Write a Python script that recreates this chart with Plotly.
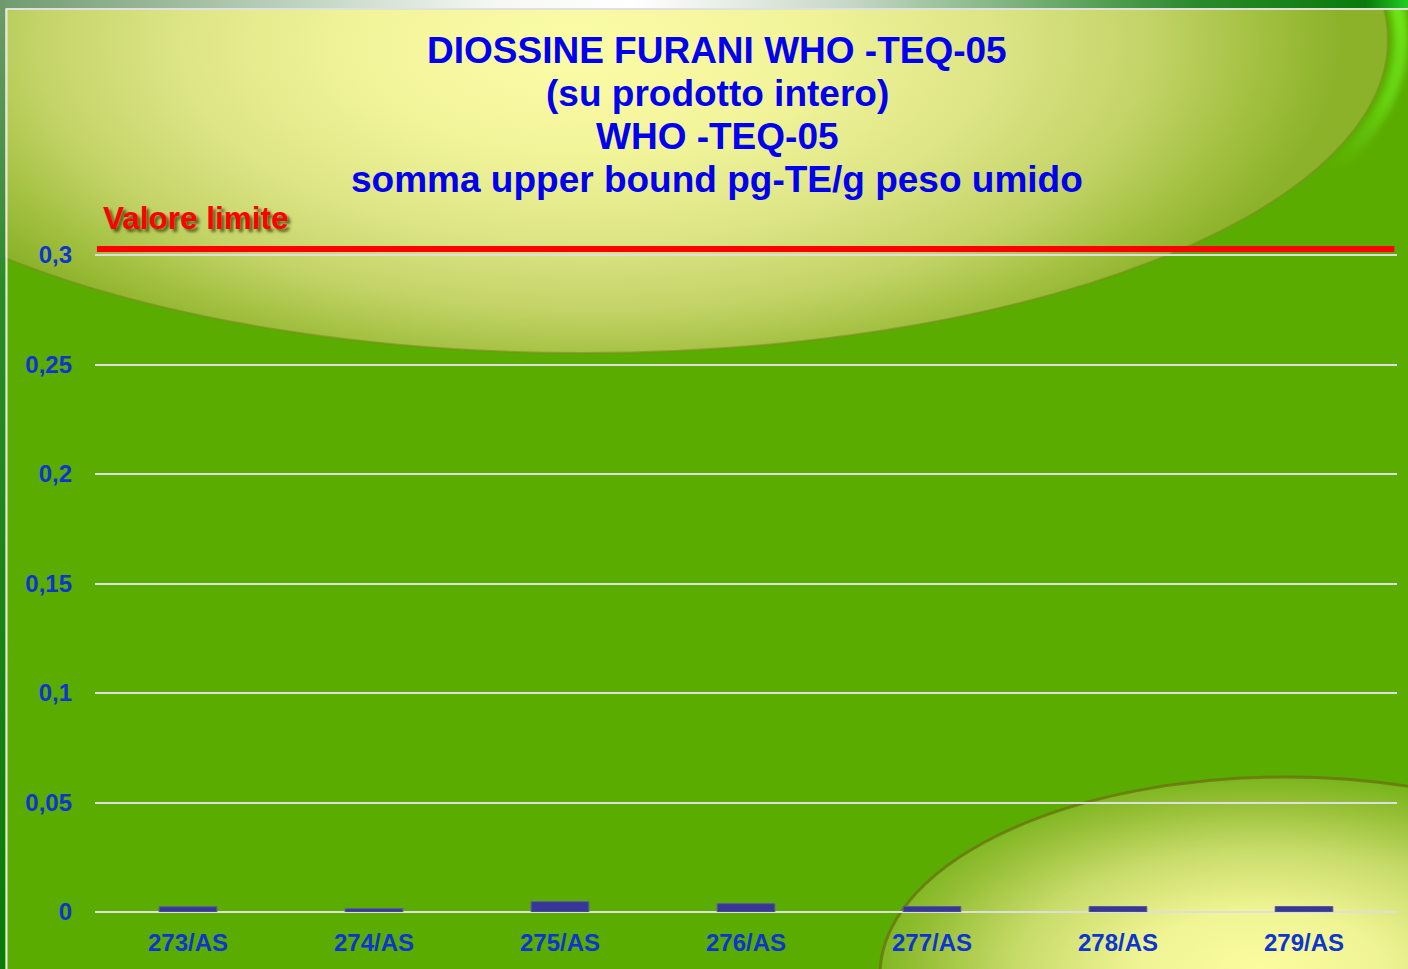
import base64

import plotly.graph_objects as go

# campioni e valori (pg-TE/g peso umido)
campioni = ["273/AS", "274/AS", "275/AS", "276/AS", "277/AS", "278/AS", "279/AS"]
somma_upper_bound = [0.0024, 0.0015, 0.0047, 0.0038, 0.0025, 0.0025, 0.0025]
valore_limite = 0.3
y_ticks = [0, 0.05, 0.1, 0.15, 0.2, 0.25, 0.3]

title_lines = [
    "DIOSSINE FURANI WHO -TEQ-05",
    "(su prodotto intero)",
    "WHO -TEQ-05",
    "somma upper bound pg-TE/g peso umido",
]

W, H = 1408, 969
ML, MR, MT, MB = 95, 11, 244, 57
PW, PH = W - ML - MR, H - MT - MB

BLUE = "#0000ee"
TICK_BLUE = "#0c36cf"
FONT = "Liberation Sans, Arial, sans-serif"


def px_x(x):
    return (x - ML) / PW


def px_y(y):
    return (H - MB - y) / PH


# slide background: green with two glossy ellipses
svg = f"""<svg xmlns="http://www.w3.org/2000/svg" width="{W}" height="{H}" viewBox="0 0 {W} {H}">
<defs>
  <radialGradient id="g1" gradientUnits="userSpaceOnUse" cx="600" cy="40" r="740" fx="570" fy="60"
    gradientTransform="translate(600,40) scale(1,0.48) translate(-600,-40)">
    <stop offset="0" stop-color="#fcfca8"/>
    <stop offset="0.3" stop-color="#f2f49a"/>
    <stop offset="0.55" stop-color="#dde586"/>
    <stop offset="0.75" stop-color="#c4d468"/>
    <stop offset="0.9" stop-color="#a2c040"/>
    <stop offset="1" stop-color="#8cb22a"/>
  </radialGradient>
  <radialGradient id="g2" cx="0.47" cy="0.485" r="0.5" fx="0.47" fy="0.485">
    <stop offset="0" stop-color="#fbfc9e"/>
    <stop offset="0.3" stop-color="#f0f494"/>
    <stop offset="0.6" stop-color="#c8dc6a"/>
    <stop offset="0.85" stop-color="#94be34"/>
    <stop offset="1" stop-color="#74b418"/>
  </radialGradient>
  <linearGradient id="top" x1="0" y1="0" x2="1" y2="0">
    <stop offset="0" stop-color="#6f9a6f"/>
    <stop offset="0.35" stop-color="#f4f8f4"/>
    <stop offset="0.45" stop-color="#ffffff"/>
    <stop offset="0.6" stop-color="#c8d8c8"/>
    <stop offset="0.85" stop-color="#2a8a2a"/>
    <stop offset="0.97" stop-color="#0a7a0a"/>
    <stop offset="1" stop-color="#22cc22"/>
  </linearGradient>
  <linearGradient id="left" x1="0" y1="0" x2="0" y2="1">
    <stop offset="0" stop-color="#6f9a6f"/>
    <stop offset="0.3" stop-color="#2a8a2a"/>
    <stop offset="1" stop-color="#0a7a0a"/>
  </linearGradient>
  <linearGradient id="lime" gradientUnits="userSpaceOnUse" x1="0" y1="0" x2="0" y2="170">
    <stop offset="0" stop-color="#6fe81a" stop-opacity="1"/>
    <stop offset="0.6" stop-color="#6fe81a" stop-opacity="0.6"/>
    <stop offset="1" stop-color="#6fe81a" stop-opacity="0"/>
  </linearGradient>
  <clipPath id="tr"><rect x="1320" y="0" width="100" height="200"/></clipPath>
  <filter id="blur"><feGaussianBlur stdDeviation="3"/></filter>
</defs>
<rect x="0" y="0" width="{W}" height="{H}" fill="#5aac00"/>
<ellipse cx="583" cy="40" rx="818" ry="326" fill="none" stroke="url(#lime)" stroke-width="14"
  clip-path="url(#tr)" filter="url(#blur)"/>
<ellipse cx="583" cy="40" rx="805" ry="313" fill="url(#g1)" stroke="#7e8c22" stroke-width="2" stroke-opacity="0.6"/>
<ellipse cx="1285" cy="975" rx="405" ry="198" fill="url(#g2)" stroke="#6a7410" stroke-width="3" stroke-opacity="0.8"/>
<rect x="0" y="0" width="{W}" height="8" fill="url(#top)"/>
<line x1="6" y1="9" x2="{W}" y2="9" stroke="#e0e0e0" stroke-width="2"/>
<rect x="0" y="0" width="5" height="{H}" fill="url(#left)"/>
<line x1="6.5" y1="9" x2="6.5" y2="{H}" stroke="#e8e8e8" stroke-width="2"/>
</svg>"""
bg_uri = "data:image/svg+xml;base64," + base64.b64encode(svg.encode()).decode()

fig = go.Figure()
fig.add_trace(
    go.Bar(
        x=campioni,
        y=somma_upper_bound,
        width=0.31,
        marker={"color": "#373797", "line": {"color": "#5a5a9a", "width": 1}},
        showlegend=False,
    )
)

# valore limite: red rule drawn just above the 0,3 gridline
fig.add_shape(
    type="line",
    xref="paper",
    x0=0.0015,
    x1=0.998,
    yref="y",
    ysizemode="pixel",
    yanchor=valore_limite,
    y0=6,
    y1=6,
    line={"color": "#ff0000", "width": 6},
)

annotations = []
for i, line in enumerate(title_lines):
    annotations.append(
        dict(
            text=line,
            xref="paper",
            yref="paper",
            x=px_x(717),
            y=px_y(51 + 43 * i),
            xanchor="center",
            yanchor="middle",
            showarrow=False,
            font={"family": FONT, "size": 37, "color": BLUE, "weight": "bold"},
        )
    )
annotations.append(
    dict(
        text="Valore limite",
        xref="paper",
        yref="paper",
        x=px_x(101),
        y=px_y(218),
        xanchor="left",
        yanchor="middle",
        showarrow=False,
        font={
            "family": FONT,
            "size": 31.5,
            "color": "#ff0000",
            "weight": "bold",
            "shadow": "3px 3px 3px rgba(50,60,0,0.75)",
        },
    )
)

fig.update_layout(
    width=W,
    height=H,
    margin={"l": ML, "r": MR, "t": MT, "b": MB, "pad": 0},
    paper_bgcolor="#5aac00",
    plot_bgcolor="rgba(0,0,0,0)",
    separators=", ",
    bargap=0.69,
    annotations=annotations,
    images=[
        dict(
            source=bg_uri,
            xref="paper",
            yref="paper",
            x=-ML / PW,
            y=1 + MT / PH,
            sizex=W / PW,
            sizey=H / PH,
            xanchor="left",
            yanchor="top",
            sizing="stretch",
            layer="below",
        )
    ],
    xaxis={
        "showgrid": False,
        "zeroline": False,
        "showline": False,
        "ticks": "",
        "ticklabelstandoff": 14,
        "tickfont": {"family": FONT, "size": 24, "color": TICK_BLUE, "weight": "bold"},
    },
    yaxis={
        "range": [0, PH / 2190],
        "tickvals": y_ticks,
        "showgrid": True,
        "gridcolor": "#dedede",
        "gridwidth": 2,
        "zeroline": True,
        "zerolinecolor": "#dedede",
        "zerolinewidth": 2,
        "showline": False,
        "ticks": "",
        "ticklabelstandoff": 22,
        "tickfont": {"family": FONT, "size": 24, "color": TICK_BLUE, "weight": "bold"},
    },
)

fig.write_html(
    "out.html",
    config={"displayModeBar": False},
    post_script="document.body.style.margin='0px';",
)
